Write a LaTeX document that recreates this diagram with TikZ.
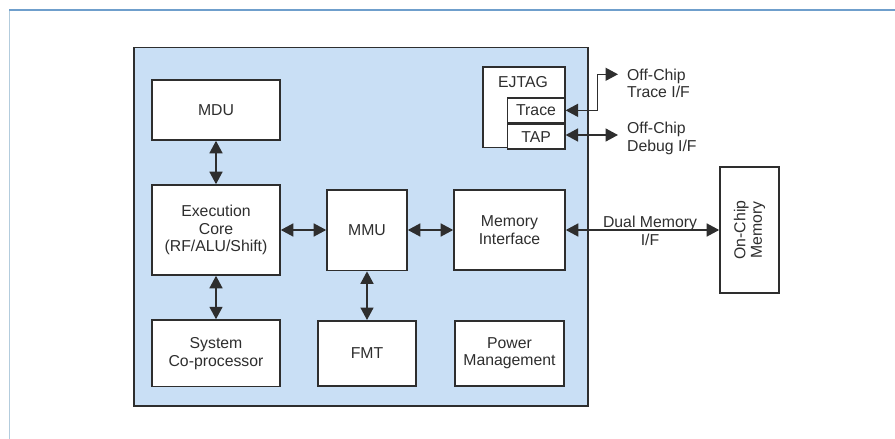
\documentclass[tikz,border=0pt]{standalone}
\usepackage{fontspec}
\setmainfont{Liberation Sans}
\usetikzlibrary{arrows.meta,calc}
\definecolor{chipblue}{HTML}{C9DFF5}
\definecolor{edge}{HTML}{2E2E2E}
\definecolor{frametop}{HTML}{6F9FCC}
\definecolor{frameleft}{HTML}{B3CCDD}
\begin{document}
\begin{tikzpicture}[x=1pt,y=-1pt,
  every node/.style={font=\fontsize{15.8pt}{17.8pt}\selectfont, text=edge},
  blockbox/.style={draw=edge, line width=1.6pt, fill=white, inner sep=0pt, align=center},
  biarrow/.style={draw=edge, line width=1.6pt, {Triangle[length=12.5pt,width=13pt]}-{Triangle[length=12.5pt,width=13pt]}},
  extlabel/.style={anchor=west, align=left, inner sep=0pt}]
\useasboundingbox (0,0) rectangle (895,439);
% page frame
\draw[frameleft, line width=1.6pt] (9.5,439) -- (9.5,10);
\draw[frametop, line width=1.4pt] (9,10) -- (895,10);
% chip
\node[draw=edge, line width=1.6pt, fill=chipblue, minimum width=454pt, minimum height=358.5pt, anchor=north west, inner sep=0pt] (chip) at (133,46.5) {};
% blocks
\node[blockbox, minimum width=128pt, minimum height=60pt] (mdu) at (216,110) {MDU};
\node[blockbox, minimum width=128pt, minimum height=90pt] (exec) at (216,230) {Execution\\Core\\(RF/ALU/Shift)};
\node[blockbox, minimum width=128pt, minimum height=66.5pt] (sys) at (216,353.3) {System\\Co-processor};
\node[blockbox, minimum width=80pt, minimum height=80.5pt] (mmu) at (367,230.3) {MMU};
\node[blockbox, minimum width=98pt, minimum height=65pt] (fmt) at (367,353.3) {FMT};
\node[blockbox, minimum width=111pt, minimum height=80pt] (memif) at (509.5,230) {Memory\\Interface};
\node[blockbox, minimum width=109pt, minimum height=65pt] (power) at (509.5,353.3) {Power\\Management};
% EJTAG
\node[blockbox, minimum width=82pt, minimum height=80.5pt, anchor=north west] (ejtag) at (482,66.3) {};
\node[anchor=center, inner sep=0pt] (ejtaglabel) at (523,81.7) {EJTAG};
\node[blockbox, minimum width=57.5pt, minimum height=24.5pt, anchor=north east] (trace) at (ejtag.north east |- 0,97.3) {Trace};
\node[blockbox, minimum width=57.5pt, minimum height=25pt, anchor=north east] (tap) at (trace.south east) {TAP};
% on-chip memory
\node[blockbox, minimum width=59pt, minimum height=126.5pt] (ocm) at (749.5,230) {};
\node[rotate=90, align=center, inner sep=0pt, font=\fontsize{15.8pt}{16.5pt}\selectfont] (ocmlabel) at (ocm.center) {On-Chip\\Memory};
% connectors
\draw[biarrow] (mdu.south) -- (exec.north);
\draw[biarrow] (exec.south) -- (sys.north);
\draw[biarrow] (exec.east |- 0,230) -- (mmu.west |- 0,230);
\draw[biarrow] (mmu.east |- 0,230) -- (memif.west |- 0,230);
\draw[biarrow] (mmu.south) -- (fmt.north);
\draw[biarrow] (memif.east |- 0,230) -- (ocm.west |- 0,230);
\coordinate (traceend) at (618,74.3);
\coordinate (tapend) at (618,135);
\draw[biarrow] (trace.east) -- ++(32,0) |- (traceend);
\draw[biarrow] (tap.east |- tapend) -- (tapend);
% labels
\node[extlabel] (tracelbl) at (627,83.3) {Off-Chip\\Trace I/F};
\node[extlabel] (debuglbl) at (627,138.3) {Off-Chip\\Debug I/F};
\node[align=center, inner sep=0pt] (duallbl) at (650,231) {Dual Memory\\I/F};
\end{tikzpicture}
\end{document}
